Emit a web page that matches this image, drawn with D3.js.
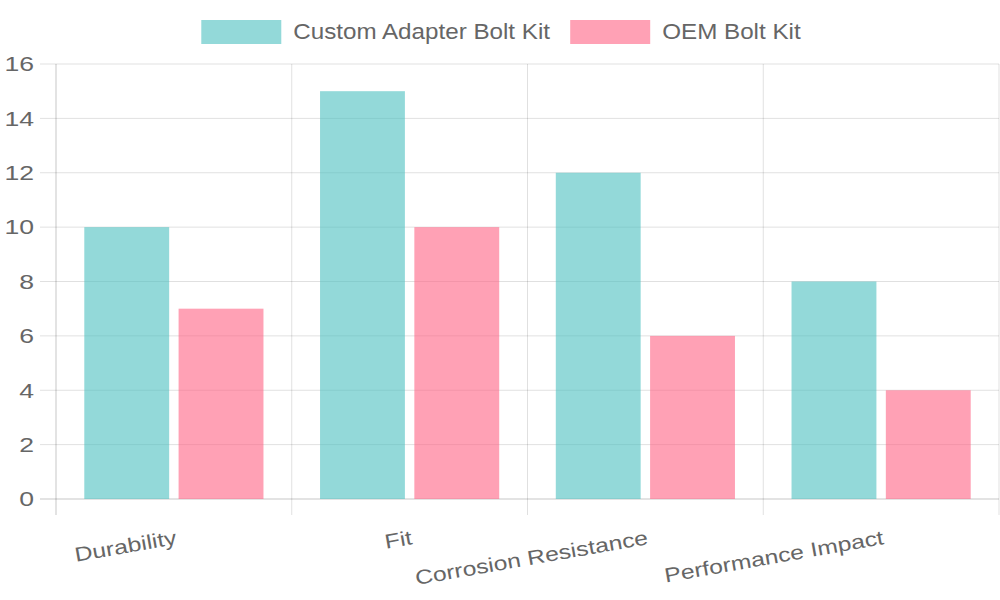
<!DOCTYPE html>
<html>
<head>
<meta charset="utf-8">
<script src="https://cdn.jsdelivr.net/npm/d3@7"></script>
<style>
  html, body { margin: 0; padding: 0; background: #fff; }
  svg { display: block; font-family: "Liberation Sans", Arial, sans-serif; }
</style>
</head>
<body>
<svg id="chart" width="1000" height="600"></svg>
<script>
const categories = ["Durability", "Fit", "Corrosion Resistance", "Performance Impact"];
const seriesNames = ["Custom Adapter Bolt Kit", "OEM Bolt Kit"];
const customValues = [10, 15, 12, 8];
const oemValues = [7, 10, 6, 4];
const yTicks = [0, 2, 4, 6, 8, 10, 12, 14, 16];
const seriesColors = ["rgba(75,192,192,0.6)", "rgba(255,99,132,0.6)"];

const series = [customValues, oemValues];
const svg = d3.select("#chart");
const W = 1000, H = 600;
const plot = { left: 56, right: 999, top: 64, bottom: 499 };
const textColor = "#666";
const gridColor = "rgba(0,0,0,0.12)";
const axisColor = "rgba(0,0,0,0.22)";

const x = d3.scaleBand().domain(categories).range([plot.left, plot.right]).padding(0);
const bw = x.bandwidth();
const xs = d3.scaleBand().domain(d3.range(series.length))
  .range([bw * 0.1, bw * 0.9]).paddingInner(0.1).paddingOuter(0.05);
const y = d3.scaleLinear().domain([0, 16]).range([plot.bottom, plot.top]);

// horizontal grid lines + tick marks
svg.append("g").selectAll("line").data(yTicks).join("line")
  .attr("x1", plot.left - 16).attr("x2", plot.right)
  .attr("y1", d => y(d)).attr("y2", d => y(d))
  .attr("stroke", d => d === 0 ? axisColor : gridColor).attr("stroke-width", 1);

// vertical grid lines (category boundaries)
const bounds = categories.map(c => x(c)).concat([plot.right]);
svg.append("g").selectAll("line").data(bounds).join("line")
  .attr("x1", d => d).attr("x2", d => d)
  .attr("y1", plot.top).attr("y2", plot.bottom + 16)
  .attr("stroke", (d, i) => i === 0 ? axisColor : gridColor).attr("stroke-width", 1);

// bars
const g = svg.append("g");
series.forEach((vals, si) => {
  g.selectAll(".s" + si).data(vals).join("rect")
    .attr("class", "s" + si)
    .attr("x", (d, i) => x(categories[i]) + xs(si))
    .attr("width", xs.bandwidth())
    .attr("y", d => y(d))
    .attr("height", d => y(0) - y(d))
    .attr("fill", seriesColors[si]);
});

// y tick labels
svg.append("g").selectAll("text").data(yTicks).join("text")
  .attr("transform", d => `translate(34,${y(d) + 7.3}) scale(1.33,1)`)
  .attr("text-anchor", "end")
  .attr("font-size", 20)
  .attr("fill", textColor)
  .text(d => d);

// x labels rotated
svg.append("g").selectAll("text").data(categories).join("text")
  .attr("transform", d => `translate(${x(d) + bw / 2 + 3.5},544) rotate(-10) scale(1.235,1)`)
  .attr("text-anchor", "end")
  .attr("font-size", 20)
  .attr("fill", textColor)
  .text(d => d);

// legend
const legend = svg.append("g");
const boxW = 80, boxH = 24, gapBox = 12, gapItem = 20, lsx = 1.1;
const items = seriesNames.map((name, i) => {
  const gi = legend.append("g");
  gi.append("rect").attr("width", boxW).attr("height", boxH).attr("y", 20)
    .attr("fill", seriesColors[i]);
  const t = gi.append("text").attr("font-size", 22).attr("fill", textColor)
    .attr("text-anchor", "start").text(name);
  const tw = t.node().getComputedTextLength() * lsx;
  return { gi, t, w: boxW + gapBox + tw };
});
const total = d3.sum(items, d => d.w) + gapItem * (items.length - 1);
let cx = W / 2 - total / 2 + 1;
items.forEach(it => {
  it.gi.select("rect").attr("x", cx);
  it.t.attr("transform", `translate(${cx + boxW + gapBox},39) scale(${lsx},1)`);
  cx += it.w + gapItem;
});
</script>
</body>
</html>
